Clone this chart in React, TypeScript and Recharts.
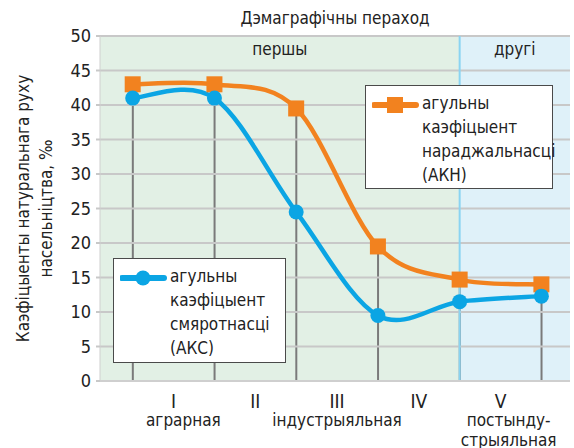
import { ComposedChart, Line, Bar, XAxis, YAxis, ReferenceArea, ReferenceLine, Legend } from 'recharts'

const stagePos = [0, 1, 2, 3, 4, 5]
const birthRate = [43, 43, 39.5, 19.5, 14.7, 14]
const deathRate = [41, 41, 24.5, 9.5, 11.5, 12.3]

const yTicks = [0, 5, 10, 15, 20, 25, 30, 35, 40, 45, 50]
const romanTicks = [0.5, 1.5, 2.5, 3.5, 4.5]
const romanLabels = ['I', 'II', 'III', 'IV', 'V']
const typeTicks = [0.62, 2.5, 4.6]
const typeLabels = [['аграрная'], ['індустрыяльная'], ['постынду-', 'стрыяльная']]

const birthLegend = ['агульны', 'каэфіцыент', 'нараджальнасці', '(АКН)']
const deathLegend = ['агульны', 'каэфіцыент', 'смяротнасці', '(АКС)']

const FONT = '"DejaVu Sans Condensed", "Liberation Sans Narrow", sans-serif'
const BLUE = '#0ba5e4'
const ORANGE = '#f2821f'

const data = stagePos.map((x, i) => ({
  x,
  birth: birthRate[i],
  death: deathRate[i],
  drop: Math.max(birthRate[i], deathRate[i]),
}))

// catmull-rom style smoothing, similar to the office "smoothed line"
const smooth = (context: any) => {
  let pts: number[][] = []
  return {
    areaStart() {},
    areaEnd() {},
    lineStart() {
      pts = []
    },
    point(x: number, y: number) {
      pts.push([+x, +y])
    },
    lineEnd() {
      const n = pts.length
      if (!n) return
      context.moveTo(pts[0][0], pts[0][1])
      for (let i = 0; i < n - 1; i++) {
        const p0 = pts[i - 1] || pts[i]
        const p1 = pts[i]
        const p2 = pts[i + 1]
        const p3 = pts[i + 2] || p2
        context.bezierCurveTo(
          p1[0] + (p2[0] - p0[0]) / 6,
          p1[1] + (p2[1] - p0[1]) / 6,
          p2[0] - (p3[0] - p1[0]) / 6,
          p2[1] - (p3[1] - p1[1]) / 6,
          p2[0],
          p2[1]
        )
      }
    },
  }
}

const SquareDot = (props: any) => {
  const { cx, cy } = props
  if (cx == null || cy == null) return null
  return <rect x={cx - 8} y={cy - 8} width={16} height={16} fill={ORANGE} />
}

const RomanTick = (props: any) => {
  const { x, y, index } = props
  return (
    <text x={x} y={y + 19} textAnchor="middle" fontSize={19} fill="#222" fontFamily={FONT}>
      {romanLabels[index]}
    </text>
  )
}

const TypeTick = (props: any) => {
  const { x, y, index } = props
  return (
    <text x={x} y={y + 13} textAnchor="middle" fontSize={17} fill="#222" fontFamily={FONT}>
      {typeLabels[index].map((s, i) => (
        <tspan key={i} x={x} dy={i === 0 ? 0 : 20}>
          {s}
        </tspan>
      ))}
    </text>
  )
}

const YLabel = (props: any) => {
  const { viewBox } = props
  const cy = viewBox.y + viewBox.height / 2
  const cx = 24
  return (
    <text
      x={cx}
      y={cy}
      textAnchor="middle"
      fontSize={17}
      fill="#222"
      fontFamily={FONT}
      transform={`rotate(-90, ${cx}, ${cy})`}
    >
      <tspan x={cx} dy={5}>Каэфіцыенты натуральнага руху</tspan>
      <tspan x={cx} dy={23}>насельніцтва, ‰</tspan>
    </text>
  )
}

const LegendBox = ({ left, top, width, height, lines, color, square }: any) => (
  <div
    style={{
      position: 'absolute',
      left,
      top,
      width,
      height,
      boxSizing: 'border-box',
      background: '#fff',
      border: '1px solid #4a4a4a',
      fontFamily: FONT,
      fontSize: 17,
      color: '#222',
    }}
  >
    <svg width={50} height={30} style={{ position: 'absolute', left: 6, top: 4 }}>
      <line x1={2} y1={15} x2={44} y2={15} stroke={color} strokeWidth={6} strokeLinecap="round" />
      {square ? (
        <rect x={15} y={7} width={16} height={16} fill={color} />
      ) : (
        <circle cx={23} cy={15} r={7.5} fill={color} />
      )}
    </svg>
    <div style={{ position: 'absolute', left: 56, top: 5, lineHeight: '24px' }}>
      {lines.map((s: string, i: number) => (
        <div key={i}>{s}</div>
      ))}
    </div>
  </div>
)

const renderLegend = () => (
  <div style={{ position: 'relative', width: 574, height: 448 }}>
    <LegendBox left={365} top={85} width={188} height={104} lines={birthLegend} color={ORANGE} square />
    <LegendBox left={113} top={258} width={173} height={105} lines={deathLegend} color={BLUE} />
  </div>
)

export default function App() {
  return (
    <div style={{ position: 'absolute', left: 0, top: 0, width: 574, height: 448, background: '#fff' }}>
      <div
        style={{
          position: 'absolute',
          left: 100,
          width: 470,
          top: 8,
          textAlign: 'center',
          fontFamily: FONT,
          fontSize: 17,
          color: '#222',
          zIndex: 2,
        }}
      >
        Дэмаграфічны пераход
      </div>
      <ComposedChart width={574} height={448} data={data} margin={{ top: 36, right: 4, bottom: 0, left: 0 }}>
        <XAxis
          dataKey="x"
          type="number"
          domain={[-0.4, 5.35]}
          allowDataOverflow
          ticks={romanTicks}
          interval={0}
          height={24}
          axisLine={{ stroke: '#cfcfcf', strokeWidth: 2 }}
          tickLine={false}
          tick={<RomanTick />}
        />
        <XAxis
          xAxisId="type"
          dataKey="x"
          type="number"
          domain={[-0.4, 5.35]}
          allowDataOverflow
          ticks={typeTicks}
          interval={0}
          height={43}
          axisLine={false}
          tickLine={false}
          tick={<TypeTick />}
        />
        <YAxis
          type="number"
          domain={[0, 50]}
          ticks={yTicks}
          interval={0}
          width={100}
          axisLine={{ stroke: '#cfcfcf', strokeWidth: 1 }}
          tickLine={{ stroke: '#c8c8c8', strokeWidth: 2 }}
          tickSize={4}
          tickMargin={5}
          tick={{ fontSize: 18, fill: '#222', fontFamily: FONT }}
          label={<YLabel />}
        />
        <ReferenceArea
          x1={-0.4}
          x2={4}
          fill="#e2f0e5"
          fillOpacity={1}
          label={{ value: 'першы', position: 'insideTop', offset: 7, fontSize: 17, fill: '#222', fontFamily: FONT }}
        />
        <ReferenceArea
          x1={4}
          x2={5.35}
          fill="#dff1f9"
          fillOpacity={1}
          label={{ value: 'другі', position: 'insideTop', offset: 7, fontSize: 17, fill: '#222', fontFamily: FONT }}
        />
        {yTicks.slice(1).map((v) => (
          <ReferenceLine key={v} y={v} stroke="#c8c8c8" strokeWidth={2} />
        ))}
        <ReferenceLine x={4} stroke="#8ad4f2" strokeWidth={2} />
        <Bar dataKey="drop" barSize={2} fill="#7a7a7a" isAnimationActive={false} legendType="none" />
        <Line
          dataKey="birth"
          name="АКН"
          type={smooth as any}
          stroke={ORANGE}
          strokeWidth={4.5}
          dot={<SquareDot />}
          activeDot={false}
          isAnimationActive={false}
        />
        <Line
          dataKey="death"
          name="АКС"
          type={smooth as any}
          stroke={BLUE}
          strokeWidth={4.5}
          dot={{ r: 7.5, fill: BLUE, stroke: 'none' }}
          activeDot={false}
          isAnimationActive={false}
        />
        <Legend
          layout="horizontal"
          verticalAlign="middle"
          align="center"
          content={renderLegend}
          wrapperStyle={{ left: 0, top: 0, width: 574, height: 448, pointerEvents: 'none' }}
        />
      </ComposedChart>
    </div>
  )
}
